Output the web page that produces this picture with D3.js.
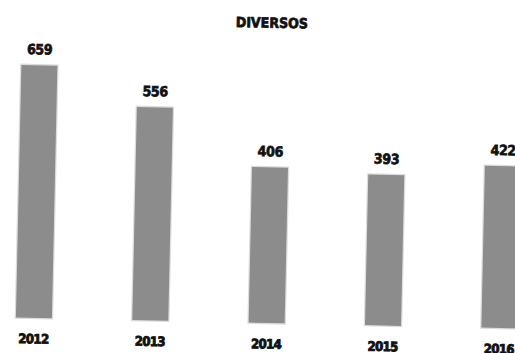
<!DOCTYPE html>
<html>
<head>
<meta charset="utf-8">
<script src="https://cdn.jsdelivr.net/npm/d3@7"></script>
<style>
  html, body { margin: 0; padding: 0; background: #ffffff; }
  svg { display: block; }
  text {
    font-family: "DejaVu Sans Condensed", "DejaVu Sans", sans-serif;
    font-stretch: condensed;
    font-weight: bold;
    fill: #111111;
  }
</style>
</head>
<body>
<svg id="chart" width="515" height="353"></svg>
<script>
// Yearly totals for "DIVERSOS"
const years = ["2012", "2013", "2014", "2015", "2016"];
const values = [659, 556, 406, 393, 422];
const title = "DIVERSOS";

const svg = d3.select("#chart");

// The printed page sits slightly askew, so the whole chart is turned a little.
const g = svg.append("g").attr("transform", "rotate(1.24, 260, 200)");

const baseY = 322.8;
const x = d3.scaleBand()
  .domain(years)
  .range([-21.7, 560.3])
  .paddingInner(0.6907)
  .paddingOuter(0.3454);

const y = d3.scaleLinear()
  .domain([0, 700])
  .range([baseY, baseY - 700 * 0.3835]);

const data = years.map((yr, i) => ({ year: yr, value: values[i] }));

// Title
g.append("text")
  .attr("x", 268)
  .attr("y", 27.5)
  .attr("text-anchor", "middle")
  .style("font-size", "14px")
  .style("stroke", "#111111")
  .style("stroke-width", "0.7px")
  .text(title);

// Bars
g.selectAll("rect.bar")
  .data(data)
  .join("rect")
  .attr("class", "bar")
  .attr("x", d => x(d.year))
  .attr("y", d => y(d.value))
  .attr("width", x.bandwidth())
  .attr("height", d => y(0) - y(d.value))
  .attr("fill", "#8c8c8c")
  .attr("stroke", "#dcdcdc")
  .attr("stroke-width", 2.5)
  .style("paint-order", "stroke");

// Value labels above bars
g.selectAll("text.value")
  .data(data)
  .join("text")
  .attr("class", "value")
  .attr("x", d => x(d.year) + x.bandwidth() / 2)
  .attr("y", d => y(d.value) - 11)
  .attr("text-anchor", "middle")
  .style("font-size", "14px")
  .style("letter-spacing", "-0.3px")
  .style("stroke", "#111111")
  .style("stroke-width", "0.7px")
  .text(d => d.value);

// Year labels along the bottom
const axis = d3.axisBottom(x).tickSize(0).tickPadding(0);
const axisG = g.append("g")
  .attr("transform", `translate(0, ${baseY})`)
  .call(axis);
axisG.select(".domain").remove();
axisG.selectAll("text")
  .attr("y", 25.5)
  .attr("dy", null)
  .style("font-size", "13px")
  .style("letter-spacing", "-0.6px")
  .style("stroke", "#111111")
  .style("stroke-width", "0.9px")
  .attr("fill", "#111111");
</script>
</body>
</html>
